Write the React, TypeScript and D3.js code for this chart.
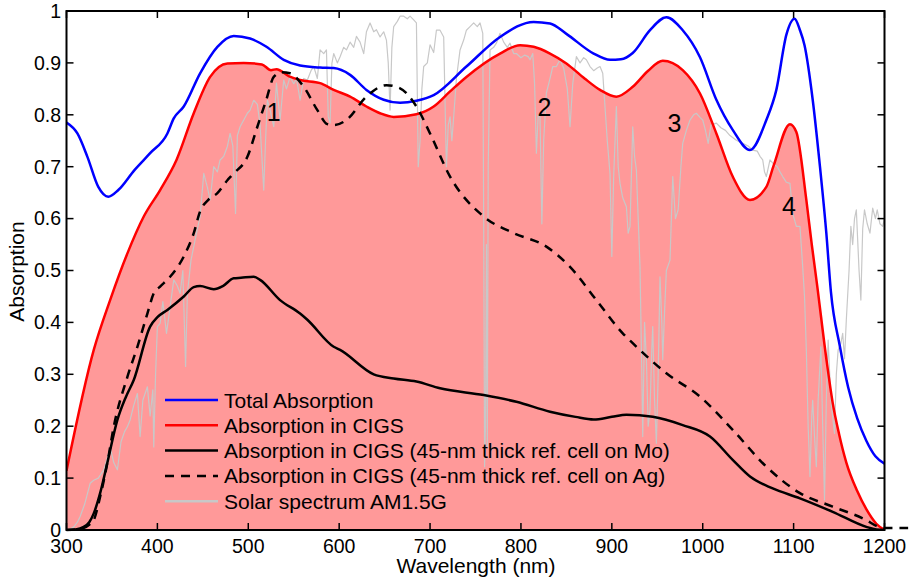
import React from "react";
import * as d3 from "d3";

// ---------- data ----------
const totalWl = [300, 312, 323, 335, 346, 357, 375, 392, 411, 418, 429, 447, 466, 484, 502, 520, 539, 557, 579, 594, 612, 630, 649, 667, 685, 704, 740, 777, 814, 832, 850, 880, 898, 910, 923, 942, 960, 978, 997, 1015, 1033, 1052, 1070, 1081, 1092, 1101, 1107, 1112, 1121, 1129, 1136, 1141, 1151, 1160, 1170, 1180, 1190, 1200];
const totalAbs = [0.785, 0.764, 0.719, 0.661, 0.642, 0.655, 0.694, 0.726, 0.764, 0.793, 0.816, 0.88, 0.931, 0.952, 0.947, 0.931, 0.906, 0.895, 0.891, 0.89, 0.877, 0.848, 0.829, 0.823, 0.827, 0.838, 0.893, 0.95, 0.979, 0.976, 0.956, 0.918, 0.906, 0.907, 0.919, 0.963, 0.988, 0.963, 0.911, 0.829, 0.771, 0.732, 0.79, 0.848, 0.954, 0.985, 0.963, 0.934, 0.829, 0.7, 0.572, 0.46, 0.353, 0.275, 0.215, 0.172, 0.142, 0.128];

const cigsWl = [300, 330, 348, 367, 385, 403, 421, 440, 458, 477, 495, 515, 525, 531, 545, 557, 579, 594, 612, 630, 645, 660, 685, 704, 722, 740, 777, 799, 814, 832, 850, 870, 887, 905, 923, 940, 956, 978, 997, 1015, 1033, 1052, 1070, 1078, 1096, 1103, 1114, 1120, 1126, 1136, 1143, 1150, 1158, 1170, 1180, 1191, 1200];
const cigsAbs = [0.114, 0.347, 0.443, 0.533, 0.604, 0.655, 0.713, 0.803, 0.873, 0.899, 0.9, 0.897, 0.886, 0.888, 0.874, 0.867, 0.861, 0.848, 0.835, 0.816, 0.803, 0.796, 0.801, 0.816, 0.845, 0.873, 0.918, 0.934, 0.931, 0.918, 0.899, 0.87, 0.848, 0.835, 0.854, 0.885, 0.904, 0.886, 0.841, 0.764, 0.681, 0.636, 0.661, 0.702, 0.782, 0.767, 0.636, 0.55, 0.47, 0.33, 0.245, 0.185, 0.13, 0.075, 0.04, 0.012, 0.0];

const moWl = [300, 310, 319, 325, 330, 337, 345, 356, 365, 374, 392, 400, 411, 429, 440, 447, 462, 472, 484, 492, 506, 513, 535, 557, 565, 594, 601, 638, 660, 685, 711, 759, 795, 832, 860, 880, 900, 916, 945, 978, 1008, 1033, 1052, 1077, 1107, 1143, 1180, 1191, 1200];
const moAbs = [0, 0.001, 0.006, 0.015, 0.032, 0.071, 0.13, 0.212, 0.255, 0.289, 0.392, 0.41, 0.424, 0.45, 0.468, 0.47, 0.464, 0.47, 0.485, 0.486, 0.488, 0.482, 0.443, 0.417, 0.405, 0.353, 0.347, 0.3, 0.292, 0.286, 0.273, 0.26, 0.247, 0.228, 0.218, 0.213, 0.218, 0.222, 0.218, 0.202, 0.18, 0.135, 0.103, 0.08, 0.061, 0.035, 0.006, 0.001, 0];

const agWl = [300, 315, 325, 330, 337, 345, 352, 367, 378, 389, 396, 403, 414, 429, 440, 447, 456, 466, 477, 484, 499, 510, 520, 528, 537, 546, 561, 576, 587, 594, 608, 630, 652, 667, 685, 700, 722, 759, 792, 828, 854, 883, 912, 923, 960, 997, 1033, 1070, 1107, 1143, 1180, 1191, 1200, 1226];
const agAbs = [0, 0.002, 0.01, 0.019, 0.064, 0.13, 0.199, 0.295, 0.353, 0.417, 0.456, 0.469, 0.488, 0.527, 0.572, 0.614, 0.636, 0.649, 0.674, 0.687, 0.719, 0.777, 0.83, 0.873, 0.882, 0.88, 0.854, 0.809, 0.782, 0.78, 0.79, 0.835, 0.857, 0.851, 0.816, 0.764, 0.681, 0.604, 0.572, 0.546, 0.507, 0.443, 0.379, 0.36, 0.302, 0.257, 0.193, 0.122, 0.071, 0.045, 0.019, 0.008, 0.004, 0.004];

const solarWl = [300, 305, 308, 312, 315, 320, 326, 330, 335, 341, 345, 348, 352, 356, 360, 364, 367, 370, 374, 378, 381, 384, 389, 392, 395, 396, 398, 400, 403, 406, 410, 414, 418, 422, 425, 428, 431, 433, 437, 440, 444, 447, 451, 455, 458, 462, 466, 469, 473, 477, 480, 483, 486, 488, 491, 495, 499, 502, 506, 510, 513, 517, 519, 521, 524, 528, 531, 535, 539, 542, 546, 550, 553, 557, 561, 565, 569, 572, 576, 579, 583, 586, 588, 590, 592, 594, 598, 601, 605, 608, 612, 616, 619, 623, 627, 630, 634, 638, 641, 645, 649, 652, 654, 656, 658, 660, 664, 667, 671, 675, 678, 682, 685, 687, 689, 691, 693, 697, 700, 704, 707, 711, 715, 718, 720, 722, 724, 726, 729, 733, 737, 740, 744, 748, 752, 755, 758, 759, 760, 761, 762, 763, 764, 766, 770, 773, 777, 781, 785, 788, 792, 795, 800, 804, 808, 810, 813, 815, 817, 819, 821, 823, 825, 828, 832, 835, 839, 843, 847, 851, 854, 857, 861, 865, 869, 872, 876, 880, 884, 887, 890, 892, 895, 898, 900, 902, 905, 907, 909, 912, 916, 918, 920, 923, 925, 927, 929, 931, 933, 934, 936, 938, 940, 942, 944, 945, 947, 949, 951, 953, 955, 956, 958, 960, 964, 967, 970, 973, 976, 978, 982, 986, 990, 993, 997, 1000, 1003, 1006, 1009, 1015, 1020, 1025, 1030, 1037, 1044, 1050, 1055, 1060, 1063, 1066, 1068, 1070, 1074, 1078, 1082, 1085, 1088, 1092, 1096, 1099, 1103, 1107, 1110, 1112, 1114, 1116, 1118, 1120, 1121, 1123, 1125, 1127, 1130, 1132, 1134, 1136, 1138, 1141, 1145, 1147, 1149, 1152, 1154, 1156, 1158, 1161, 1163, 1165, 1167, 1169, 1172, 1174, 1176, 1178, 1181, 1184, 1187, 1190, 1192, 1195, 1198, 1200];
const solarVal = [0, 0.003, 0.006, 0.015, 0.026, 0.05, 0.09, 0.096, 0.1, 0.116, 0.14, 0.16, 0.13, 0.116, 0.17, 0.19, 0.199, 0.212, 0.24, 0.263, 0.18, 0.25, 0.276, 0.22, 0.27, 0.16, 0.3, 0.392, 0.398, 0.44, 0.379, 0.43, 0.482, 0.47, 0.456, 0.5, 0.315, 0.456, 0.52, 0.546, 0.58, 0.604, 0.687, 0.66, 0.636, 0.7, 0.69, 0.713, 0.72, 0.739, 0.764, 0.74, 0.61, 0.76, 0.777, 0.79, 0.803, 0.809, 0.828, 0.82, 0.78, 0.655, 0.75, 0.828, 0.81, 0.777, 0.861, 0.79, 0.867, 0.85, 0.873, 0.86, 0.87, 0.828, 0.87, 0.867, 0.885, 0.893, 0.87, 0.925, 0.918, 0.925, 0.796, 0.784, 0.899, 0.918, 0.9, 0.912, 0.93, 0.925, 0.94, 0.93, 0.951, 0.94, 0.918, 0.96, 0.977, 0.96, 0.964, 0.95, 0.96, 0.944, 0.9, 0.809, 0.93, 0.97, 0.98, 0.99, 0.99, 0.985, 0.99, 0.983, 0.977, 0.7, 0.75, 0.85, 0.893, 0.9, 0.935, 0.92, 0.963, 0.963, 0.95, 0.7, 0.78, 0.796, 0.75, 0.796, 0.87, 0.925, 0.944, 0.963, 0.97, 0.977, 0.97, 0.977, 0.957, 0.6, 0.122, 0.2, 0.55, 0.16, 0.7, 0.925, 0.93, 0.938, 0.957, 0.94, 0.93, 0.938, 0.918, 0.918, 0.91, 0.915, 0.912, 0.906, 0.918, 0.86, 0.726, 0.8, 0.796, 0.59, 0.75, 0.842, 0.87, 0.893, 0.893, 0.906, 0.89, 0.85, 0.777, 0.86, 0.912, 0.9, 0.91, 0.906, 0.893, 0.885, 0.89, 0.893, 0.88, 0.828, 0.75, 0.687, 0.527, 0.68, 0.816, 0.7, 0.668, 0.64, 0.623, 0.572, 0.585, 0.777, 0.72, 0.694, 0.6, 0.507, 0.3, 0.18, 0.4, 0.328, 0.2, 0.231, 0.35, 0.392, 0.25, 0.167, 0.3, 0.488, 0.4, 0.328, 0.42, 0.5, 0.52, 0.681, 0.6, 0.617, 0.7, 0.745, 0.77, 0.79, 0.8, 0.803, 0.795, 0.79, 0.77, 0.745, 0.78, 0.784, 0.775, 0.77, 0.76, 0.751, 0.745, 0.74, 0.732, 0.73, 0.72, 0.713, 0.69, 0.681, 0.713, 0.705, 0.7, 0.69, 0.681, 0.67, 0.668, 0.61, 0.585, 0.585, 0.507, 0.45, 0.347, 0.2, 0.103, 0.22, 0.25, 0.18, 0.122, 0.25, 0.353, 0.2, 0.058, 0.25, 0.366, 0.25, 0.186, 0.3, 0.347, 0.36, 0.379, 0.33, 0.405, 0.5, 0.585, 0.55, 0.6, 0.617, 0.5, 0.443, 0.58, 0.617, 0.59, 0.572, 0.62, 0.6, 0.617, 0.59, 0.585, 0.6];

const xTicks = [300, 400, 500, 600, 700, 800, 900, 1000, 1100, 1200];
const yTicks = [0, 0.1, 0.2, 0.3, 0.4, 0.5, 0.6, 0.7, 0.8, 0.9, 1];

const peakLabels = ["1", "2", "3", "4"];
const peakWl = [528, 826, 969, 1095];
const peakAbs = [0.805, 0.815, 0.785, 0.625];

const legendLabels = [
  "Total Absorption",
  "Absorption in CIGS",
  "Absorption in CIGS (45-nm thick ref. cell on Mo)",
  "Absorption in CIGS (45-nm thick ref. cell on Ag)",
  "Solar spectrum AM1.5G",
];

// ---------- layout ----------
const W = 909;
const H = 577;
const X0 = 66.5;
const X1 = 884.5;
const Y0 = 530;
const Y1 = 11;
const FONT = "'Liberation Sans', Arial, Helvetica, sans-serif";

type P = [number, number];
const zip = (a: number[], b: number[]): P[] => a.map((v, i) => [v, b[i]]);

export default function App() {
  const x = d3.scaleLinear().domain([300, 1200]).range([X0, X1]);
  const y = d3.scaleLinear().domain([0, 1]).range([Y0, Y1]);

  const smooth = d3.line<P>().x((d) => x(d[0])).y((d) => y(d[1])).curve(d3.curveMonotoneX);
  const straight = d3.line<P>().x((d) => x(d[0])).y((d) => y(d[1])).curve(d3.curveLinear);
  const area = d3
    .area<P>()
    .x((d) => x(d[0]))
    .y0(y(0))
    .y1((d) => y(d[1]))
    .curve(d3.curveMonotoneX);

  const total = zip(totalWl, totalAbs);
  const cigs = zip(cigsWl, cigsAbs);
  const mo = zip(moWl, moAbs);
  const ag = zip(agWl, agAbs);
  const solar = zip(solarWl, solarVal);

  const legendStyles = [
    { stroke: "#0000ff", dash: undefined as string | undefined },
    { stroke: "#ff0000", dash: undefined },
    { stroke: "#000000", dash: undefined },
    { stroke: "#000000", dash: "9,7" },
    { stroke: "#c8c8c8", dash: undefined },
  ];
  const legX1 = 165;
  const legX2 = 218;
  const legTextX = 224;
  const legY0 = 400;
  const legDy = 25.3;

  return (
    <svg
      width={W}
      height={H}
      style={{ position: "absolute", left: 0, top: 0, display: "block", background: "#fff" }}
      fontFamily={FONT}
    >
      <defs>
        <clipPath id="plotclip">
          <rect x={X0} y={Y1 - 2} width={X1 - X0} height={Y0 - Y1 + 2} />
        </clipPath>
      </defs>

      <path d={area(cigs) || ""} fill="#ff9999" stroke="none" />

      <g clipPath="url(#plotclip)">
        <path d={straight(solar) || ""} fill="none" stroke="#c8c8c8" strokeWidth={1.2} strokeLinejoin="round" />
        <path d={smooth(total) || ""} fill="none" stroke="#0000ff" strokeWidth={2.5} />
        <path d={smooth(cigs) || ""} fill="none" stroke="#ff0000" strokeWidth={2.5} />
        <path d={smooth(mo) || ""} fill="none" stroke="#000000" strokeWidth={2.5} />
      </g>
      <path d={smooth(ag) || ""} fill="none" stroke="#000000" strokeWidth={2.5} strokeDasharray="9,7" />

      {peakLabels.map((t, i) => (
        <text
          key={t}
          x={x(peakWl[i])}
          y={y(peakAbs[i])}
          dy="0.36em"
          textAnchor="middle"
          fontSize={25}
          fill="#000"
        >
          {t}
        </text>
      ))}

      {/* frame */}
      <rect x={X0} y={Y1} width={X1 - X0} height={Y0 - Y1} fill="none" stroke="#000" strokeWidth={2} />

      {/* x ticks */}
      {xTicks.map((t) => (
        <g key={"x" + t}>
          <line x1={x(t)} x2={x(t)} y1={Y0} y2={Y0 - 7} stroke="#000" strokeWidth={1.5} />
          <line x1={x(t)} x2={x(t)} y1={Y1} y2={Y1 + 7} stroke="#000" strokeWidth={1.5} />
          <text x={x(t)} y={553} textAnchor="middle" fontSize={19.5} fill="#000">
            {t}
          </text>
        </g>
      ))}

      {/* y ticks */}
      {yTicks.map((t) => (
        <g key={"y" + t}>
          <line x1={X0} x2={X0 + 7} y1={y(t)} y2={y(t)} stroke="#000" strokeWidth={1.5} />
          <line x1={X1} x2={X1 - 7} y1={y(t)} y2={y(t)} stroke="#000" strokeWidth={1.5} />
          <text x={61} y={y(t)} dy="0.35em" textAnchor="end" fontSize={19.5} fill="#000">
            {d3.format("~g")(t)}
          </text>
        </g>
      ))}

      <text x={476} y={573} textAnchor="middle" fontSize={21} fill="#000">
        Wavelength (nm)
      </text>
      <text
        transform={`translate(24, ${(Y0 + Y1) / 2 + 1}) rotate(-90)`}
        textAnchor="middle"
        fontSize={21}
        fill="#000"
      >
        Absorption
      </text>

      {/* legend */}
      {legendLabels.map((label, i) => (
        <g key={label}>
          <line
            x1={legX1}
            x2={legX2}
            y1={legY0 + i * legDy}
            y2={legY0 + i * legDy}
            stroke={legendStyles[i].stroke}
            strokeWidth={2.5}
            strokeDasharray={legendStyles[i].dash}
          />
          <text x={legTextX} y={legY0 + i * legDy} dy="0.36em" fontSize={21} fill="#000">
            {label}
          </text>
        </g>
      ))}
    </svg>
  );
}
